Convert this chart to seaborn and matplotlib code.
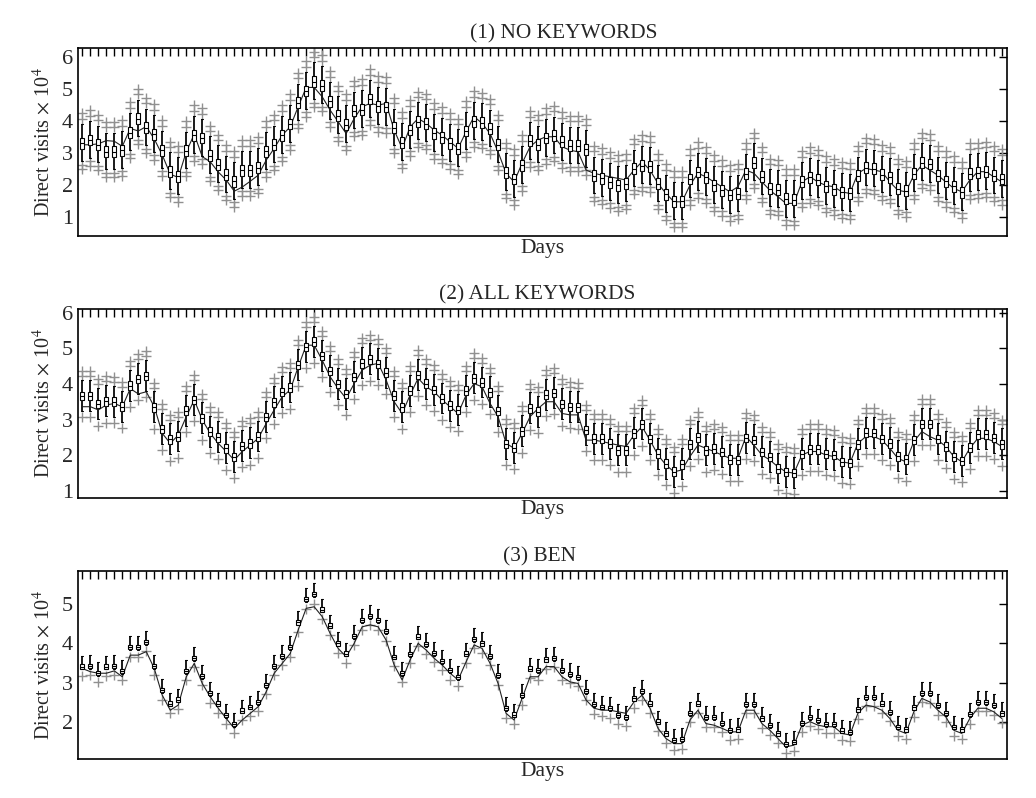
import matplotlib
matplotlib.use("Agg")
import matplotlib.pyplot as plt
import numpy as np
import pandas as pd
import seaborn as sns

sns.set_theme(style="white")
plt.rcParams["font.family"] = ["Liberation Serif", "DejaVu Serif"]
plt.rcParams["mathtext.fontset"] = "stix"

days = list(range(116))

# (1) NO KEYWORDS: box medians and the observed series
med_none = [
    3.31, 3.42, 3.27, 3.05, 3.05, 3.10, 3.65, 4.08, 3.80, 3.60, 3.10, 2.43, 2.29, 3.08, 3.57, 3.48, 2.93, 2.65,
    2.33, 2.13, 2.48, 2.48, 2.56, 3.07, 3.27, 3.56, 3.92, 4.58, 4.95, 5.24, 5.12, 4.63, 4.18, 3.90, 4.33,
    4.37, 4.70, 4.47, 4.45, 3.80, 3.34, 3.73, 3.99, 3.93, 3.63, 3.50, 3.32, 3.15, 3.70, 4.01, 3.96, 3.77, 3.27,
    2.40, 2.20, 2.63, 3.39, 3.27, 3.48, 3.55, 3.36, 3.24, 3.24, 3.13, 2.30, 2.22, 2.10, 2.00, 2.05, 2.52, 2.62,
    2.60, 2.05, 1.72, 1.50, 1.50, 2.20, 2.42,
    2.25, 2.00, 1.85, 1.70, 1.74, 2.37, 2.71, 2.27, 1.90, 1.87, 1.58, 1.56, 2.12, 2.25, 2.18, 1.97, 1.88, 1.78,
    1.75, 2.30, 2.55, 2.52, 2.33, 2.25, 1.90, 1.83, 2.37, 2.71, 2.67, 2.30, 2.13, 1.97, 1.79, 2.37, 2.40, 2.43,
    2.30, 2.20,
]
obs_none = [
    3.27, 3.27, 3.30, 3.40, 3.38, 3.22, 3.78, 3.70, 3.84, 3.45, 2.95, 2.35, 2.25, 3.05, 3.60, 2.90, 2.74, 2.42,
    2.17, 1.82, 1.95, 2.13, 2.32, 2.79, 3.16, 3.57, 3.83, 4.46, 5.06, 5.06, 4.77, 4.35, 3.99, 3.62, 4.09,
    4.46, 4.56, 4.51, 4.56, 3.73, 3.16, 3.83, 4.09, 3.94, 3.73, 3.57, 3.36, 3.16, 3.68, 4.15, 3.94, 3.62, 3.05,
    2.38, 2.11, 2.69, 3.21, 3.42, 3.52, 3.52, 3.21, 3.10, 3.05, 2.48, 2.38, 2.32, 2.27, 2.22, 2.17, 2.48, 2.74,
    2.48, 2.06, 1.75, 1.49, 1.49, 2.01, 2.38,
    2.27, 2.11, 1.96, 1.80, 1.96, 2.48, 2.38, 2.11, 1.85, 1.65, 1.44, 1.44, 2.11, 2.27, 2.11, 2.00, 1.96, 1.80,
    1.75, 2.38, 2.53, 2.48, 2.43, 2.11, 1.85, 1.80, 2.32, 2.64, 2.48, 2.32, 2.11, 1.91, 1.80, 2.17, 2.43, 2.43,
    2.27, 2.11,
]

# (2) ALL KEYWORDS
med_all = [
    3.66, 3.66, 3.43, 3.51, 3.50, 3.36, 3.95, 4.14, 4.23, 3.34, 2.73, 2.44, 2.52, 3.25, 3.55, 3.03, 2.66, 2.50,
    2.19, 1.95, 2.26, 2.33, 2.52, 3.07, 3.48, 3.78, 3.90, 4.53, 5.04, 5.19, 4.79, 4.37, 4.00, 3.72, 4.19,
    4.58, 4.69, 4.56, 4.32, 3.67, 3.34, 3.81, 4.25, 4.01, 3.83, 3.59, 3.39, 3.27, 3.81, 4.16, 4.04, 3.76, 3.24,
    2.31, 2.21, 2.67, 3.31, 3.22, 3.70, 3.75, 3.43, 3.35, 3.34, 2.71, 2.46, 2.46, 2.32, 2.13, 2.13, 2.61, 2.86,
    2.45, 2.04, 1.76, 1.53, 1.74, 2.30, 2.50,
    2.13, 2.18, 2.08, 1.87, 1.86, 2.48, 2.42, 2.08, 1.95, 1.62, 1.52, 1.50, 2.03, 2.16, 2.16, 2.03, 2.00, 1.81,
    1.78, 2.30, 2.63, 2.62, 2.45, 2.33, 1.96, 1.88, 2.42, 2.88, 2.88, 2.45, 2.24, 1.94, 1.83, 2.21, 2.58, 2.58,
    2.48, 2.30,
]
obs_all = [
    3.36, 3.36, 3.27, 3.41, 3.45, 3.36, 3.87, 3.72, 3.78, 3.36, 2.61, 2.33, 2.56, 3.08, 3.55, 2.99, 2.61, 2.33,
    2.10, 1.86, 2.10, 2.28, 2.47, 2.89, 3.27, 3.64, 3.83, 4.48, 5.09, 5.09, 4.67, 4.20, 3.87, 3.59, 4.01,
    4.39, 4.53, 4.58, 4.11, 3.50, 3.17, 3.69, 4.16, 3.92, 3.78, 3.55, 3.36, 3.17, 3.69, 4.01, 3.92, 3.45, 3.08,
    2.33, 2.19, 2.61, 3.08, 3.31, 3.50, 3.50, 3.17, 3.13, 3.13, 2.42, 2.42, 2.38, 2.33, 2.28, 2.24, 2.56, 2.80,
    2.42, 2.00, 1.72, 1.53, 1.58, 1.96, 2.28,
    2.19, 2.10, 2.00, 1.91, 1.91, 2.52, 2.28, 2.00, 1.86, 1.67, 1.53, 1.49, 2.00, 2.10, 2.10, 2.00, 1.96, 1.81,
    1.77, 2.33, 2.52, 2.52, 2.42, 2.19, 1.91, 1.81, 2.38, 2.66, 2.52, 2.42, 2.24, 1.96, 1.81, 2.19, 2.47, 2.47,
    2.38, 2.24,
]

# (3) BEN
med_ben = [
    3.41, 3.43, 3.25, 3.41, 3.43, 3.30, 3.90, 3.90, 4.04, 3.43, 2.81, 2.47, 2.57, 3.30, 3.63, 3.17, 2.73, 2.47,
    2.18, 1.95, 2.29, 2.39, 2.51, 2.94, 3.43, 3.68, 3.90, 4.53, 5.12, 5.25, 4.86, 4.45, 4.00, 3.74, 4.19,
    4.59, 4.70, 4.59, 4.31, 3.66, 3.25, 3.73, 4.17, 3.98, 3.76, 3.55, 3.32, 3.15, 3.74, 4.11, 4.00, 3.68, 3.19,
    2.35, 2.19, 2.68, 3.36, 3.32, 3.59, 3.63, 3.32, 3.22, 3.15, 2.79, 2.45, 2.39, 2.35, 2.18, 2.13, 2.60, 2.79,
    2.47, 2.01, 1.71, 1.54, 1.56, 2.23, 2.47,
    2.12, 2.12, 1.98, 1.79, 1.81, 2.46, 2.46, 2.09, 1.92, 1.71, 1.44, 1.50, 1.98, 2.13, 2.05, 1.95, 1.95, 1.78,
    1.75, 2.32, 2.64, 2.64, 2.47, 2.26, 1.88, 1.81, 2.37, 2.74, 2.73, 2.43, 2.23, 1.88, 1.81, 2.20, 2.51, 2.51,
    2.43, 2.22,
]
obs_ben = [
    3.36, 3.28, 3.24, 3.24, 3.30, 3.15, 3.70, 3.70, 3.79, 3.36, 2.68, 2.30, 2.43, 3.15, 3.49, 2.98, 2.64, 2.35,
    2.09, 1.84, 2.05, 2.22, 2.39, 2.77, 3.24, 3.49, 3.74, 4.34, 4.89, 4.93, 4.68, 4.25, 3.87, 3.66, 4.00,
    4.42, 4.47, 4.42, 4.08, 3.45, 3.07, 3.58, 4.00, 3.83, 3.62, 3.45, 3.24, 3.07, 3.53, 3.96, 3.87, 3.49, 2.98,
    2.22, 2.05, 2.60, 3.15, 3.15, 3.41, 3.41, 3.15, 3.02, 2.98, 2.56, 2.35, 2.30, 2.30, 2.26, 2.22, 2.51, 2.68,
    2.35, 1.84, 1.58, 1.45, 1.45, 2.05, 2.30,
    1.96, 1.92, 1.84, 1.75, 1.75, 2.30, 2.30, 1.96, 1.79, 1.58, 1.37, 1.41, 1.92, 2.01, 1.92, 1.88, 1.88, 1.71,
    1.67, 2.22, 2.43, 2.39, 2.30, 2.09, 1.79, 1.71, 2.26, 2.60, 2.51, 2.30, 2.13, 1.79, 1.71, 2.09, 2.35, 2.35,
    2.26, 2.09,
]

# typical spread around the median (box half height, whisker ends, outlier levels)
titles = ["(1) NO KEYWORDS", "(2) ALL KEYWORDS", "(3) BEN"]
title_x = [0.523, 0.494, 0.497]
box_half = [0.17, 0.12, 0.055]
whisker_ends = [(-0.55, 0.60), (-0.42, 0.45), (-0.07, 0.28)]
outlier_offsets = [[-0.80, -0.66, 0.76, 0.94], [-0.60, 0.56, 0.70], [-0.24]]
y_limits = [(0.43, 6.3), (0.8, 6.1), (1.06, 5.84)]
y_ticks = [[1, 2, 3, 4, 5, 6], [1, 2, 3, 4, 5, 6], [2, 3, 4, 5]]

fig = plt.figure(figsize=(10.36, 7.98), dpi=100)
rects = [
    [0.0756, 0.7046, 0.896, 0.2356],
    [0.0756, 0.3763, 0.896, 0.2361],
    [0.0756, 0.0489, 0.896, 0.2356],
]


def draw_panel(ax, i, med, obs):
    rows = []
    for d, m in zip(days, med):
        lo, hi = whisker_ends[i]
        for v in (m + lo, m - box_half[i], m, m + box_half[i], m + hi):
            rows.append((d, v))
    box_df = pd.DataFrame(rows, columns=["day", "visits"])

    out_rows = []
    for d, m in zip(days, med):
        for off in outlier_offsets[i]:
            out_rows.append((d, m + off))
    out_df = pd.DataFrame(out_rows, columns=["day", "visits"])

    sns.scatterplot(
        out_df, x="day", y="visits", marker="+", color="#909090",
        s=55, linewidth=1.0, ax=ax, zorder=1, legend=False,
    )
    sns.lineplot(x=days, y=obs, color="#222222", linewidth=0.8, ax=ax, zorder=2)
    sns.boxplot(
        box_df, x="day", y="visits", whis=(0, 100), width=0.5,
        color="white", linecolor="black", linewidth=0.8, showfliers=False,
        whiskerprops=dict(color="#1a1a1a", linewidth=1.4),
        ax=ax, zorder=3,
    )

    ax.set_xlim(-0.5, len(days) - 0.4)
    ax.set_ylim(*y_limits[i])
    ax.set_yticks(y_ticks[i])
    ax.set_yticklabels([str(t) for t in y_ticks[i]])
    ax.set_xticks(days)
    ax.tick_params(axis="both", direction="in", top=True, right=True,
                   length=6, width=1, color="black", labelsize=16, pad=4)
    ax.tick_params(axis="x", labelbottom=False)
    for sp in ax.spines.values():
        sp.set_color("black")
        sp.set_linewidth(1.2)
    ax.set_title(titles[i], fontsize=15.4, pad=7, x=title_x[i])
    ax.set_xlabel("Days", fontsize=15.5, labelpad=2)
    ax.set_ylabel(r"Direct visits $\times$ 10$^4$", fontsize=14.5, labelpad=5)


for i, (med, obs) in enumerate([(med_none, obs_none), (med_all, obs_all), (med_ben, obs_ben)]):
    ax = fig.add_axes(rects[i])
    draw_panel(ax, i, med, obs)

fig.savefig("out.png", dpi=100)
